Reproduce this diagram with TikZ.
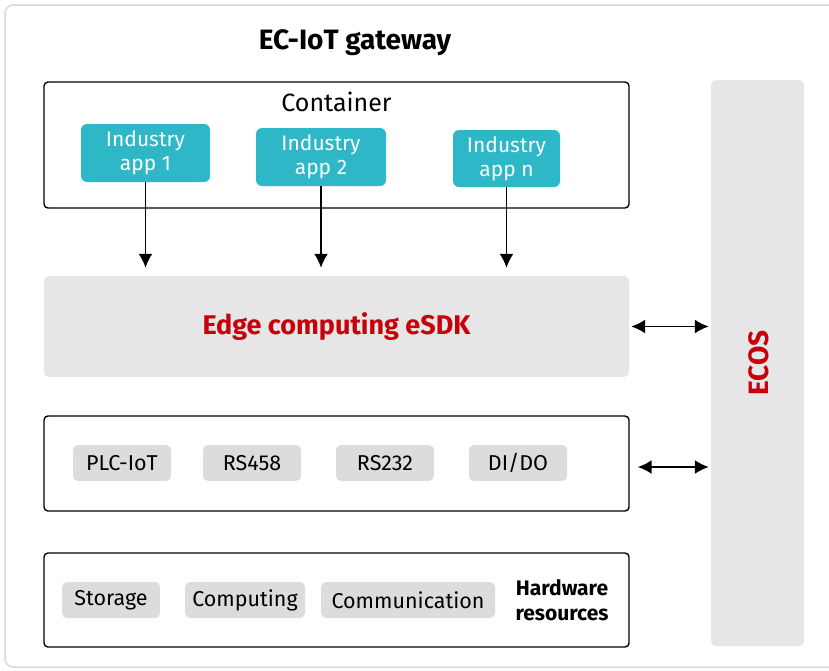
\documentclass[tikz,border=0pt]{standalone}
\usepackage{fontspec}
\setmainfont{Fira Sans}
\usetikzlibrary{arrows.meta}
\definecolor{teal2}{HTML}{2DB7C7}
\definecolor{hwred}{HTML}{C7000B}
\definecolor{panel}{HTML}{E6E6E6}
\definecolor{chipgray}{HTML}{DCDCDC}
\begin{document}
\begin{tikzpicture}[x=1pt,y=-1pt]
\tikzset{frame/.style = {draw,line width=1.4pt,rounded corners=4pt,inner sep=0pt}}
\tikzset{app/.style = {fill=teal2,text=white,rounded corners=6pt,inner sep=0pt,align=center,
  font=\fontsize{21}{24}\selectfont}}
\tikzset{chip/.style = {fill=chipgray,rounded corners=5pt,inner sep=0pt,minimum height=36pt,
  font=\fontsize{21.5}{24}\selectfont}}
\tikzset{panelbox/.style = {fill=panel,rounded corners=5pt,inner sep=0pt}}
\tikzset{edge/.style = {line width=1.9pt,-{Latex[length=14pt,width=14pt]}}}
\tikzset{both/.style = {line width=1.9pt,{Latex[length=14pt,width=14pt]}-{Latex[length=14pt,width=14pt]}}}
\useasboundingbox (0,0) rectangle (829,670);
% outer frame
\draw[draw=black!15,line width=1.5pt,rounded corners=8pt] (5,5) rectangle (845,667);
\node[font=\fontsize{28}{32}\selectfont\bfseries] (title) at (355,43) {EC-IoT gateway};
% container with the apps
\node[frame,minimum width=585pt,minimum height=126pt] (cont) at (336.5,145) {};
\node[font=\fontsize{25}{29}\selectfont] (contlabel) at (336.5,102) {Container};
\node[app,minimum width=129pt,minimum height=58pt] (app1) at (145.5,153) {Industry\\app 1};
\node[app,minimum width=130pt,minimum height=58pt] (app2) at (321,157) {Industry\\app 2};
\node[app,minimum width=107pt,minimum height=57pt] (appn) at (506.5,158.5) {Industry\\app n};
% eSDK layer
\node[panelbox,minimum width=585pt,minimum height=101pt,text=hwred,
  font=\fontsize{27}{31}\selectfont\bfseries] (esdk) at (336.5,326.5) {Edge computing eSDK};
% ECOS bar on the right
\node[panelbox,minimum width=93pt,minimum height=566pt] (ecos) at (757.5,363) {};
\node[rotate=90,text=hwred,font=\fontsize{28}{32}\selectfont\bfseries] (ecoslabel) at (759,363) {ECOS};
% interfaces
\node[frame,minimum width=585pt,minimum height=95pt] (iface) at (336.5,463.5) {};
\node[chip,minimum width=98pt] (plc) at (122,463) {PLC-IoT};
\node[chip,minimum width=98pt] (rs458) at (252,463) {RS458};
\node[chip,minimum width=98pt] (rs232) at (385,463) {RS232};
\node[chip,minimum width=98pt] (dido) at (518,463) {DI/DO};
\coordinate (ifaceport) at ([yshift=-3.5pt]iface.east);
% hardware resources
\node[frame,minimum width=585pt,minimum height=94pt] (hw) at (336.5,600) {};
\node[chip,minimum width=98pt] (storage) at (111,600) {Storage};
\node[chip,minimum width=120pt] (computing) at (245,600) {Computing};
\node[chip,minimum width=174pt] (comm) at (408,600) {Communication};
\node[align=center,font=\fontsize{21}{25}\selectfont\bfseries] (hwlabel) at (562,600) {Hardware\\resources};
% app arrows
\draw[edge,shorten >=8pt] (app1) -- (app1 |- esdk.north);
\draw[edge,shorten >=8pt] (app2) -- (app2 |- esdk.north);
\draw[edge,shorten >=8pt] (appn) -- (appn |- esdk.north);
% links to ECOS
\draw[both,shorten <=2pt,shorten >=2pt] (esdk.east) -- (ecos.west |- esdk.east);
\draw[both,shorten <=8pt,shorten >=2pt] (ifaceport) -- (ecos.west |- ifaceport);
\end{tikzpicture}
\end{document}
